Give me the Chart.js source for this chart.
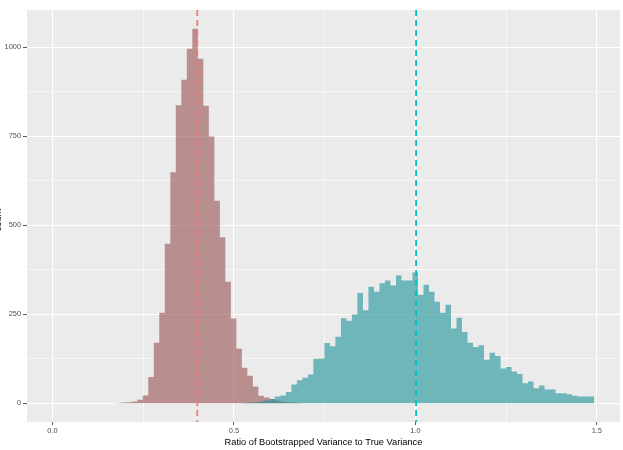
<!DOCTYPE html>
<html>
<head>
<meta charset="utf-8">
<script src="https://cdn.jsdelivr.net/npm/chart.js@4.4.1/dist/chart.umd.min.js"></script>
<style>
  html, body { margin: 0; padding: 0; background: #fff; }
  #wrap { width: 623px; height: 450px; }
</style>
</head>
<body>
<div id="wrap"><canvas id="histChart" width="623" height="450"></canvas></div>
<script>
// histogram bin edges (ratio), shared by both groups
const binEdges = [
  0.1730, 0.1882, 0.2033, 0.2185, 0.2337, 0.2488,
  0.2640, 0.2792, 0.2943, 0.3095, 0.3247, 0.3398, 0.3550, 0.3702, 0.3853, 0.4005,
  0.4157, 0.4308, 0.4460, 0.4612, 0.4764, 0.4915, 0.5067, 0.5219, 0.5370, 0.5522,
  0.5674, 0.5825, 0.5977, 0.6129, 0.6280, 0.6432, 0.6584, 0.6735, 0.6887, 0.7039,
  0.7190, 0.7342, 0.7494, 0.7645, 0.7797, 0.7949, 0.8100, 0.8252, 0.8404, 0.8556,
  0.8707, 0.8859, 0.9011, 0.9162, 0.9314, 0.9466, 0.9617, 0.9769, 0.9921, 1.0072,
  1.0224, 1.0376, 1.0527, 1.0679, 1.0831, 1.0982, 1.1134, 1.1286, 1.1437, 1.1589,
  1.1741, 1.1892, 1.2044, 1.2196, 1.2348, 1.2499, 1.2651, 1.2803, 1.2954, 1.3106,
  1.3258, 1.3409, 1.3561, 1.3713, 1.3864, 1.4016, 1.4168, 1.4319, 1.4471, 1.4623,
  1.4774, 1.4926
];

// counts per bin; each group starts at its own edge index
const groupAStart = 0;
const groupACounts = [
  1, 2, 3, 5, 10, 22,
  74, 170, 254, 448, 649, 837, 909, 996, 1052, 968,
  836, 749, 569, 466, 341, 238, 153, 100, 77, 47,
  21, 16, 12, 8, 5, 3, 2, 1
];
const groupBStart = 23;
const groupBCounts = [
  1, 2, 3,
  5, 8, 12, 19, 22, 32, 53, 65, 72, 81,
  125, 126, 169, 160, 187, 239, 232, 249, 310, 261,
  327, 313, 337, 345, 331, 359, 345, 345, 367, 305,
  333, 313, 285, 254, 277, 210, 240, 200, 170, 158,
  163, 122, 142, 133, 98, 102, 89, 82, 56, 61,
  42, 50, 39, 39, 28, 28, 25, 21, 19, 19,
  19
];

// group means (dashed lines)
const groupMeans = [0.399, 1.002];
const meanColors = ['#F8766D', '#00BFC4'];

// axes
const xMajor = [0, 0.5, 1, 1.5];
const xMinor = [0.25, 0.75, 1.25];
const xTickLabels = ['0.0', '0.5', '1.0', '1.5'];
const yMajor = [0, 250, 500, 750, 1000];
const yMinor = [125, 375, 625, 875];
const yTickLabels = ['0', '250', '500', '750', '1000'];
const xTitle = 'Ratio of Bootstrapped Variance to True Variance';
const yTitle = 'count';

Chart.defaults.font.family = '"Liberation Sans", Arial, sans-serif';

function stepData(start, counts) {
  const pts = counts.map((y, i) => ({ x: binEdges[start + i], y }));
  pts.push({ x: binEdges[start + counts.length], y: 0 });
  return pts;
}

function tickList(major, minor) {
  return major.concat(minor).sort((a, b) => a - b).map(v => ({ value: v }));
}

const panelPlugin = {
  id: 'panel',
  beforeDraw(chart) {
    const { ctx, chartArea: a } = chart;
    ctx.save();
    ctx.fillStyle = '#EBEBEB';
    ctx.fillRect(a.left, a.top, a.right - a.left, a.bottom - a.top);
    ctx.restore();
  },
  afterDatasetsDraw(chart) {
    const { ctx, chartArea: a, scales: { x } } = chart;
    ctx.save();
    ctx.lineWidth = 1.8;
    ctx.setLineDash([6, 4]);
    groupMeans.forEach((m, i) => {
      const px = x.getPixelForValue(m);
      ctx.strokeStyle = meanColors[i];
      ctx.beginPath();
      ctx.moveTo(px, a.top);
      ctx.lineTo(px, a.bottom);
      ctx.stroke();
    });
    ctx.restore();

    // y title sits almost entirely off the left edge, like the source
    ctx.save();
    ctx.translate(0.8, (a.top + a.bottom) / 2 + 4);
    ctx.rotate(-Math.PI / 2);
    ctx.font = '9.25px "Liberation Sans", Arial, sans-serif';
    ctx.fillStyle = '#000';
    ctx.textAlign = 'center';
    ctx.textBaseline = 'alphabetic';
    ctx.fillText(yTitle, 0, 0);
    ctx.restore();
  }
};

new Chart(document.getElementById('histChart'), {
  type: 'line',
  data: {
    datasets: [
      {
        label: 'B',
        data: stepData(groupBStart, groupBCounts),
        stepped: 'before',
        fill: 'origin',
        backgroundColor: 'rgba(27,147,153,0.6)',
        borderColor: 'rgba(0,0,0,0)',
        borderWidth: 0,
        pointRadius: 0
      },
      {
        label: 'A',
        data: stepData(groupAStart, groupACounts),
        stepped: 'before',
        fill: 'origin',
        backgroundColor: 'rgba(151,80,80,0.6)',
        borderColor: 'rgba(0,0,0,0)',
        borderWidth: 0,
        pointRadius: 0
      }
    ]
  },
  options: {
    responsive: false,
    animation: false,
    layout: { padding: { left: 0, right: 3, top: 10, bottom: 0 } },
    plugins: { legend: { display: false }, tooltip: { enabled: false } },
    scales: {
      x: {
        type: 'linear',
        min: -0.0703,
        max: 1.564,
        afterBuildTicks: s => { s.ticks = tickList(xMajor, xMinor); },
        afterFit: s => { s.height = 28; },
        border: { display: false },
        grid: {
          color: '#FFFFFF',
          lineWidth: c => xMajor.includes(c.tick.value) ? 1.1 : 0.55,
          tickLength: 3,
          tickWidth: 1,
          tickColor: c => xMajor.includes(c.tick.value) ? '#555555' : 'rgba(0,0,0,0)'
        },
        ticks: {
          autoSkip: false,
          maxRotation: 0,
          padding: 2,
          color: '#4D4D4D',
          font: { size: 7.4 },
          callback: v => {
            const i = xMajor.indexOf(v);
            return i >= 0 ? xTickLabels[i] : '';
          }
        },
        title: {
          display: true,
          text: xTitle,
          color: '#000',
          font: { size: 9.25 },
          padding: { top: 0, bottom: 2.4 }
        }
      },
      y: {
        type: 'linear',
        min: -52.6,
        max: 1104.6,
        afterBuildTicks: s => { s.ticks = tickList(yMajor, yMinor); },
        afterFit: s => { s.width = 27; },
        border: { display: false },
        grid: {
          color: '#FFFFFF',
          lineWidth: c => yMajor.includes(c.tick.value) ? 1.1 : 0.55,
          tickLength: 4,
          tickWidth: 1,
          tickColor: c => yMajor.includes(c.tick.value) ? '#555555' : 'rgba(0,0,0,0)'
        },
        ticks: {
          autoSkip: false,
          padding: 2,
          color: '#4D4D4D',
          font: { size: 7.4 },
          callback: v => {
            const i = yMajor.indexOf(v);
            return i >= 0 ? yTickLabels[i] : '';
          }
        }
      }
    }
  },
  plugins: [panelPlugin]
});
</script>
</body>
</html>
